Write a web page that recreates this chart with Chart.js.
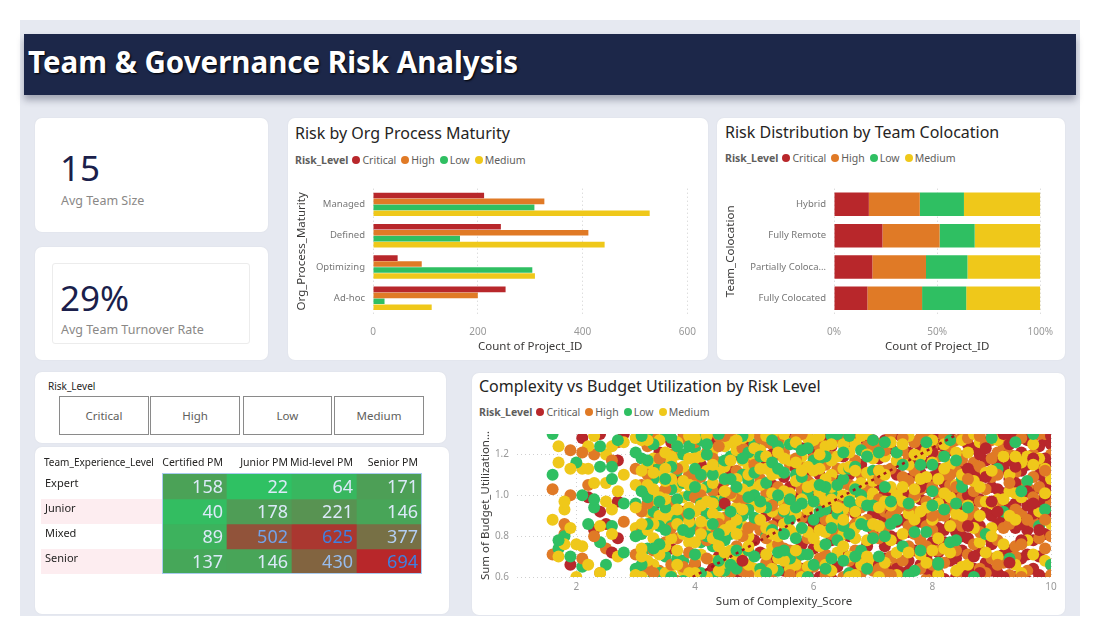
<!DOCTYPE html>
<html>
<head>
<meta charset="utf-8">
<title>Team &amp; Governance Risk Analysis</title>
<script src="https://cdn.jsdelivr.net/npm/chart.js@4.4.1/dist/chart.umd.min.js"></script>
<style>
  body { margin: 0; width: 1100px; height: 636px; background: #fff; position: relative; overflow: hidden;
         font-family: "Noto Sans", "Open Sans", sans-serif; color: #252423; }
  .abs { position: absolute; }
  #pageBg { left: 20px; top: 20px; width: 1060px; height: 596px; background: #e6e9f1; }
  #banner { left: 24px; top: 34px; width: 1052px; height: 61px; background: #1c2749; box-shadow: 0 5px 7px rgba(30, 35, 60, .35); }
  #banner h1 { position: absolute; left: 4px; top: 0; margin: 0; line-height: 56px; font-size: 29.5px; font-weight: 700;
               color: #fff; text-shadow: 1px 1px 2px #000; white-space: nowrap; }
  .card { background: #fff; border-radius: 7px; box-shadow: 0 0 2px rgba(0, 0, 0, .06); }
  .kpi-value { font-size: 35px; line-height: 40px; color: #1b1f4b; white-space: nowrap; }
  .kpi-label { font-size: 12.5px; line-height: 16px; color: #8a8886; white-space: nowrap; }
  .ctitle { font-size: 16px; line-height: 22px; color: #252423; white-space: nowrap; }
  .legend { font-size: 10.5px; line-height: 14px; color: #605e5c; display: flex; align-items: center; white-space: nowrap; }
  .legend b { font-weight: 700; margin-right: 4px; }
  .legend .it { display: flex; align-items: center; margin-right: 5px; }
  .legend i { display: inline-block; width: 8px; height: 8px; border-radius: 50%; margin-right: 2px; }
  .slicer-btn { top: 396px; height: 39px; box-sizing: border-box; border: 1px solid #8a8a8a; font-size: 11.5px;
                color: #605e5c; display: flex; align-items: center; justify-content: center; }
</style>
</head>
<body>
<div id="pageBg" class="abs"></div>
<div id="banner" class="abs"><h1>Team &amp; Governance Risk Analysis</h1></div>

<!-- KPI cards -->
<div class="abs card" style="left:35px;top:118px;width:233px;height:114px"></div>
<div class="abs kpi-value" style="left:60px;top:148px">15</div>
<div class="abs kpi-label" style="left:61px;top:193px">Avg Team Size</div>

<div class="abs card" style="left:35px;top:247px;width:233px;height:113px"></div>
<div class="abs" style="left:52px;top:263px;width:198px;height:81px;border:1px solid #ececec;border-radius:3px;box-sizing:border-box"></div>
<div class="abs kpi-value" style="left:60px;top:278px">29%</div>
<div class="abs kpi-label" style="left:61px;top:322px">Avg Team Turnover Rate</div>

<!-- bar chart card -->
<div class="abs card" style="left:288px;top:118px;width:420px;height:242px"></div>
<div class="abs ctitle" style="left:295px;top:122px">Risk by Org Process Maturity</div>
<div id="legendMaturity" class="abs legend" style="left:295px;top:153px"></div>
<canvas id="maturityChart" class="abs" width="420" height="185" style="left:288px;top:175px"></canvas>

<!-- stacked chart card -->
<div class="abs card" style="left:717px;top:118px;width:348px;height:242px"></div>
<div class="abs ctitle" style="left:725px;top:121px">Risk Distribution by Team Colocation</div>
<div id="legendColoc" class="abs legend" style="left:725px;top:151px"></div>
<canvas id="colocChart" class="abs" width="348" height="185" style="left:717px;top:175px"></canvas>

<!-- slicer -->
<div class="abs card" style="left:35px;top:372px;width:411px;height:71px"></div>
<div class="abs" style="left:48px;top:379px;font-size:10px;line-height:14px;color:#252423">Risk_Level</div>
<div id="slicer"></div>

<!-- matrix -->
<div class="abs card" style="left:35px;top:447px;width:414px;height:167px"></div>
<canvas id="matrixChart" class="abs" width="384" height="128" style="left:41px;top:448px"></canvas>

<!-- scatter -->
<div class="abs card" style="left:472px;top:373px;width:593px;height:242px"></div>
<div class="abs ctitle" style="left:479px;top:375px">Complexity vs Budget Utilization by Risk Level</div>
<div id="legendScatter" class="abs legend" style="left:479px;top:405px"></div>
<canvas id="scatterChart" class="abs" width="593" height="195" style="left:472px;top:420px"></canvas>

<script>
// ---- shared categories ----
const riskLevels = ["Critical", "High", "Low", "Medium"];
const riskColors = ["#b8272b", "#e07a26", "#2fbf62", "#efc81a"];

// ---- Risk by Org Process Maturity (count of projects) ----
const maturityLabels = ["Managed", "Defined", "Optimizing", "Ad-hoc"];
const maturityCritical = [212, 244, 47, 253];
const maturityHigh = [327, 411, 93, 200];
const maturityLow = [308, 166, 304, 22];
const maturityMedium = [528, 442, 309, 112];
const maturityTicks = [0, 200, 400, 600];

// ---- Risk Distribution by Team Colocation (% of projects) ----
const colocationLabels = ["Hybrid", "Fully Remote", "Partially Colocated", "Fully Colocated"];
const colocCritical = [16.9, 23.5, 18.6, 16.2];
const colocHigh = [24.7, 27.7, 26.0, 26.5];
const colocLow = [21.4, 17.0, 20.1, 21.4];
const colocMedium = [37.0, 31.8, 35.3, 35.9];
const percentTicks = [0, 50, 100];

// ---- matrix: Team_Experience_Level x PM type ----
const experienceLevels = ["Expert", "Junior", "Mixed", "Senior"];
const pmTypes = ["Certified PM", "Junior PM", "Mid-level PM", "Senior PM"];
const matrixExpert = [158, 22, 64, 171];
const matrixJunior = [40, 178, 221, 146];
const matrixMixed = [89, 502, 625, 377];
const matrixSenior = [137, 146, 430, 694];

// ---- scatter: pairs of (Complexity_Score x10, Budget_Utilization x100) ----
const criticalPts = [
  21,128, 24,130, 27,117, 22,99, 24,92, 25,86, 23,83, 19,66, 26,72, 28,130, 27,97, 27,79,
  31,62, 33,95, 34,121, 36,74, 37,108, 38,131, 39,88, 40,66, 41,115, 42,97, 43,127, 44,70, 45,84, 46,112, 47,59,
  48,101, 49,125, 50,78, 32,104, 35,58, 38,92, 41,78, 43,64, 46,90, 48,131, 33,113, 36,126, 44,103, 47,120, 49,62,
  51,96, 52,117, 53,68, 54,130, 55,82, 56,104, 57,61, 58,123, 59,89, 60,74, 61,110, 62,128, 63,93, 64,65, 65,119,
  66,80, 67,102, 68,58, 69,126, 70,91, 51,72, 52,127, 53,105, 54,88, 55,63, 56,131, 57,98, 58,76, 59,112, 60,100,
  61,60, 62,85, 63,124, 64,107, 65,71, 66,94, 67,129, 68,115, 69,67, 70,83, 52,90, 55,109, 58,64, 60,121, 63,78,
  65,97, 67,66, 69,104, 61,89, 66,125,
  56,99, 59,61, 62,118, 64,79, 67,91, 70,127, 57,113, 60,86, 63,59, 66,110, 69,75, 45,96, 48,68, 53,120, 58,100,
  71,118, 72,75, 73,99, 74,130, 75,62, 76,108, 77,86, 78,124, 79,70, 80,95, 81,113, 82,59, 83,131, 84,82, 85,103,
  71,91, 72,127, 73,64, 74,110, 75,88, 76,121, 77,73, 78,98, 79,116, 80,61, 81,84, 82,106, 83,122, 84,69, 85,93,
  71,66, 72,101, 73,123, 74,79, 75,115, 76,63, 77,126, 78,87, 79,104, 80,129, 81,72, 82,96, 83,111, 84,60, 85,119,
  72,88, 74,97, 76,82, 78,111, 80,77, 82,120, 84,101, 71,105, 73,80, 75,128, 77,110, 79,91, 81,125, 83,68, 85,80,
  74,64, 76,100, 78,66, 80,109, 82,83,
  72,69, 75,101, 77,118, 79,64, 81,97, 83,86, 85,112, 71,112, 73,91, 76,68, 78,104, 80,121, 82,77, 84,116, 74,87,
  81,131, 85,73,
  86,125, 87,64, 88,98, 89,117, 90,76, 91,130, 92,89, 93,108, 94,60, 95,121, 96,83, 97,102, 98,70, 99,127, 100,92,
  86,79, 87,111, 88,131, 89,67, 90,104, 91,86, 92,122, 93,73, 94,96, 95,112, 96,58, 97,129, 98,88, 99,106, 100,66,
  86,100, 87,88, 88,73, 89,126, 90,118, 91,62, 92,101, 93,129, 94,84, 95,69, 96,115, 97,78, 98,124, 99,81, 100,114,
  86,61, 87,123, 88,109, 89,92, 90,131, 91,103, 92,71, 93,94, 94,119, 95,99, 96,127, 97,64, 98,110, 99,59, 100,125,
  87,97, 89,80, 91,116, 93,117, 95,86, 97,91, 99,118, 88,85, 90,63, 92,113, 94,106, 96,95, 98,61, 100,103,
  86,113, 88,120, 90,90, 92,60, 94,128, 96,71, 98,97,
  87,70, 89,109, 91,92, 93,125, 95,78, 97,118, 99,100, 86,85, 88,62, 90,97, 92,130, 94,114, 96,102, 98,83, 100,129,
  89,123, 93,67, 97,96
];
const highPts = [
  16,103, 18,86, 19,122, 19,100, 18,81, 16,71, 22,105, 23,120, 25,74, 26,117, 27,126, 21,69, 28,87, 23,80, 21,121, 24,62,
  30,71, 31,105, 32,124, 33,88, 34,63, 35,116, 36,97, 37,79, 38,128, 39,110, 40,67, 41,93, 42,121, 43,84, 44,60,
  45,107, 46,130, 47,75, 48,98, 49,118, 50,86,
  30,113, 31,82, 32,64, 33,129, 34,101, 35,77, 36,120, 37,58, 38,91, 39,72, 40,126, 41,109, 42,69, 43,102, 44,124,
  45,89, 46,62, 47,112, 48,80, 49,95, 50,131,
  31,92, 33,73, 35,103, 37,125, 39,63, 41,83, 43,118, 45,71, 47,99, 49,61, 32,110, 36,66, 40,99, 44,86, 48,123,
  32,96, 34,118, 36,84, 38,65, 40,110, 42,78, 44,129, 46,101, 48,63, 50,115, 33,62, 37,113, 41,100, 45,129, 49,84,
  51,108, 52,67, 53,125, 54,91, 55,74, 56,115, 57,99, 58,62, 59,131, 60,84, 61,105, 62,71, 63,119, 64,95, 65,60,
  66,127, 67,86, 68,110, 69,76, 70,122,
  51,83, 52,101, 53,62, 54,120, 55,96, 56,73, 57,128, 58,89, 59,107, 60,65, 61,124, 62,98, 63,81, 64,113, 65,90,
  66,68, 67,117, 68,94, 69,103, 70,63,
  52,126, 54,76, 56,92, 58,114, 60,104, 62,61, 64,83, 66,105, 68,70, 70,97, 53,85, 57,69, 61,97, 65,130, 69,88,
  51,128, 55,121, 59,79, 63,106, 67,73, 54,104, 58,130, 62,115, 66,84, 70,109,
  52,79, 54,127, 56,61, 58,103, 60,118, 62,88, 64,128, 66,96, 68,62, 70,84, 53,95, 57,118, 61,69, 65,106, 69,124,
  71,79, 72,112, 73,130, 74,66, 75,95, 76,118, 77,81, 78,103, 79,59, 80,124, 81,90, 82,110, 83,76, 84,127, 85,99,
  71,125, 72,92, 73,70, 74,101, 75,122, 76,85, 77,112, 78,64, 79,97, 80,83, 81,119, 82,67, 83,105, 84,88, 85,61,
  72,62, 74,121, 76,75, 78,128, 80,104, 82,90, 84,73, 71,98, 73,113, 75,68, 77,92, 79,130, 81,101, 83,123, 85,117,
  72,84, 74,93, 76,107, 78,78, 80,66, 82,129, 84,112, 71,64, 73,90, 75,109, 77,126, 79,85, 81,73, 83,94, 85,85,
  71,108, 73,61, 75,128, 77,100, 79,75, 81,62, 83,110, 85,128, 72,122, 76,95, 80,90, 84,104,
  86,90, 87,116, 88,64, 89,103, 90,127, 91,78, 92,96, 93,120, 94,70, 95,105, 96,131, 97,87, 98,115, 99,74, 100,98,
  86,128, 87,76, 88,114, 89,82, 90,69, 91,121, 92,84, 93,61, 94,111, 95,91, 96,104, 97,120, 98,79, 99,96, 100,120,
  86,71, 88,97, 90,109, 92,125, 94,93, 96,63, 98,130, 100,80, 87,102, 89,62, 91,95, 93,86, 95,128, 97,109, 99,130,
  86,108, 88,82, 90,118, 92,67, 94,75, 96,88, 98,104, 100,61, 91,110, 95,76, 99,88,
  87,92, 89,125, 91,66, 93,106, 95,60, 97,99, 99,112, 88,129
];
const lowPts = [
  16,130, 16,110, 20,116, 21,100, 18,80, 17,74, 17,78, 21,65, 23,94, 24,77, 24,114, 24,124, 26,114, 25,66, 26,85,
  28,96, 26,108, 23,98, 19,70, 28,72, 27,127, 22,86,
  30,96, 31,118, 32,74, 33,108, 34,62, 35,129, 36,85, 37,112, 38,68, 39,100, 40,123, 41,77, 42,91, 43,60, 44,116,
  45,98, 46,81, 47,126, 48,66, 49,107, 50,89,
  30,64, 31,81, 32,131, 33,92, 34,115, 35,70, 36,103, 37,88, 38,120, 39,61, 40,84, 41,127, 42,104, 43,75, 44,95,
  45,63, 46,119, 47,86, 48,110, 49,73, 50,125,
  30,121, 31,66, 32,99, 33,60, 34,85, 35,94, 36,128, 37,69, 38,106, 39,82, 40,113, 41,62, 42,80, 43,97, 44,130,
  45,78, 46,108, 47,64, 48,90, 49,121, 50,70,
  31,102, 33,125, 35,83, 37,98, 39,124, 41,96, 43,110, 45,117, 47,104, 49,93, 32,86, 36,114, 40,71, 44,68, 48,129,
  42,120, 34,76, 38,58, 46,92, 50,111,
  30,80, 32,117, 34,97, 36,60, 38,83, 40,104, 42,125, 44,81, 46,66, 48,118, 50,100, 31,129, 33,74, 35,108, 37,124,
  39,91, 41,110, 43,86, 45,108, 47,73, 49,99,
  51,119, 52,80, 53,97, 54,63, 55,111, 56,88, 57,125, 58,71, 59,101, 60,117, 61,67, 62,93, 63,129, 64,78, 65,108,
  66,62, 67,95, 68,122, 69,85, 70,112,
  51,64, 52,106, 53,83, 54,124, 55,92, 56,69, 57,110, 58,96, 59,60, 60,88, 61,118, 62,76, 63,101, 64,130, 65,85,
  66,113, 67,70, 68,100, 69,64, 70,79,
  52,94, 54,72, 56,125, 58,109, 60,66, 62,119, 64,91, 66,97, 68,73, 70,127, 53,116, 57,79, 61,92, 65,68, 69,119,
  51,97, 55,73, 59,123, 63,69, 67,114, 54,100, 58,84, 62,104, 66,81, 70,95,
  52,62, 54,113, 56,98, 58,122, 60,97, 62,64, 64,105, 66,129, 68,86, 53,127, 55,81, 57,94, 59,71, 61,105, 63,84,
  65,121, 67,103, 69,95,
  71,70, 72,104, 73,86, 74,121, 75,75, 76,96, 77,63, 78,115, 79,82, 80,102, 81,66, 82,93, 83,127, 84,78, 85,108,
  72,126, 76,61, 80,115, 84,96, 74,88, 78,73, 82,119, 71,121, 73,97, 75,115, 77,82, 79,126, 72,80,
  85,104, 80,95, 91,113, 92,92, 83,77, 81,67, 96,107, 99,93, 100,66, 93,69, 84,117, 98,85, 87,60, 94,126, 89,81, 97,130,
  86,94, 90,128, 95,102
];
const mediumPts = [
  17,124, 17,116, 21,113, 22,113, 25,120, 18,93, 18,97, 20,76, 18,76, 21,75, 17,70, 24,85, 23,106, 25,106, 25,97,
  26,93, 27,102, 22,124, 28,126, 26,124, 27,70, 22,66, 24,62, 23,129, 19,113, 26,81, 19,84, 16,88, 28,110, 20,60,
  30,84, 31,127, 32,92, 33,66, 34,109, 35,88, 36,61, 37,120, 38,99, 39,77, 40,106, 41,130, 42,85, 43,68, 44,101,
  45,124, 46,73, 47,94, 48,117, 49,80, 50,104,
  30,105, 31,74, 32,115, 33,97, 34,127, 35,62, 36,91, 37,104, 38,81, 39,129, 40,92, 41,71, 42,112, 43,122, 44,79,
  45,95, 46,126, 47,69, 48,85, 49,113, 50,64,
  30,128, 31,93, 32,68, 33,118, 34,90, 35,107, 36,79, 37,126, 38,63, 39,94, 40,118, 41,87, 42,60, 43,106, 44,89,
  45,114, 46,100, 47,122, 48,72, 49,101, 50,119,
  30,61, 31,112, 32,83, 33,79, 34,71, 35,121, 36,108, 37,86, 38,114, 39,118, 40,77, 41,103, 42,129, 43,91, 44,111,
  45,67, 46,85, 47,108, 48,128, 49,66, 50,96,
  31,60, 33,103, 35,98, 37,73, 39,87, 41,119, 43,79, 45,83, 47,81, 49,129, 32,105, 36,119, 40,62, 44,75, 48,103,
  30,94, 31,70, 32,127, 33,86, 34,99, 35,75, 36,116, 37,93, 38,107, 39,62, 40,128, 41,81, 42,97, 43,115, 44,63,
  45,102, 46,117, 47,88, 48,93, 49,75, 50,123, 33,111, 37,66, 41,95, 45,72, 49,110, 31,86, 35,113, 39,105, 43,96, 47,127,
  51,88, 52,113, 53,75, 54,98, 55,127, 56,64, 57,91, 58,119, 59,71, 60,97, 61,129, 62,82, 63,110, 64,72, 65,100,
  66,121, 67,79, 68,106, 69,96, 70,68,
  51,122, 52,71, 53,92, 54,111, 55,86, 56,101, 57,66, 58,104, 59,128, 60,79, 61,99, 62,124, 63,63, 64,119, 65,81,
  66,99, 67,125, 68,87, 69,111, 70,118,
  51,105, 52,96, 53,130, 54,69, 55,102, 56,117, 57,81, 58,60, 59,93, 60,112, 61,75, 62,108, 63,88, 64,101, 65,125,
  66,70, 67,92, 68,129, 69,78, 70,86,
  51,61, 52,84, 53,110, 54,80, 55,118, 56,93, 57,116, 58,98, 59,65, 60,127, 61,83, 62,97, 63,117, 64,87, 65,113,
  66,60, 67,104, 68,66, 69,98, 70,101,
  53,101, 57,107, 61,113, 65,93, 69,130, 55,68, 59,114, 63,98, 67,61, 52,129,
  51,94, 52,119, 53,64, 54,121, 55,93, 56,83, 57,126, 58,112, 59,82, 60,105, 61,120, 62,66, 63,104, 64,94, 65,75,
  66,114, 67,84, 68,97, 69,120, 70,107, 53,81, 57,73, 61,101, 65,88, 69,70, 51,113, 55,130, 59,104, 63,125, 67,112,
  71,85, 72,119, 73,95, 74,61, 75,104, 76,129, 77,99, 78,71, 79,122, 80,88, 81,108, 82,74, 83,115, 84,105, 85,65,
  71,112, 72,67, 73,104, 74,117, 75,81, 76,91, 77,120, 78,92, 79,67, 80,116, 81,96, 82,125, 83,85, 84,121, 85,127,
  71,60, 73,126, 75,97, 77,103, 79,109, 81,61, 83,99, 85,90, 72,97, 74,72, 76,115, 78,119, 80,73, 82,101, 84,63,
  71,94, 72,110, 73,78, 74,100, 75,125, 76,72, 77,88, 78,108, 79,94, 80,127, 81,79, 82,113, 83,72, 84,91, 85,110,
  86,95, 87,130, 88,77, 89,111, 90,84, 91,98, 92,119, 93,102, 94,66, 95,116, 96,78, 97,125, 98,92, 99,68, 100,108,
  86,66, 87,107, 88,126, 89,72, 90,96, 91,127, 92,76, 93,110, 94,101, 95,62, 96,119, 97,71, 98,118, 99,113, 100,86,
  87,84, 89,97, 91,70, 93,90, 95,99, 97,115, 99,101, 88,104, 90,80, 94,88, 86,121, 88,90, 90,112, 92,98, 94,119
];
// dotted trend line
const trendX = [3.96, 8.43];
const trendY = [0.6, 1.3];
const complexityTicks = [2, 4, 6, 8, 10];
const budgetTicks = [0.6, 0.8, 1.0, 1.2];

Chart.defaults.font.family = '"Noto Sans", "Open Sans", sans-serif';
Chart.defaults.animation = false;

const tickGrey = "#999";
const catGrey = "#767676";
const titleGrey = "#3b3a39";

// legends + slicer built from the category arrays
["legendMaturity", "legendColoc", "legendScatter"].forEach(id => {
  document.getElementById(id).innerHTML = "<b>Risk_Level</b>" + riskLevels.map((r, i) =>
    `<span class="it"><i style="background:${riskColors[i]}"></i>${r}</span>`).join("");
});
const slicerLeft = [59, 150, 243, 334];
document.getElementById("slicer").innerHTML = riskLevels.map((r, i) =>
  `<div class="abs slicer-btn" style="left:${slicerLeft[i]}px;width:${i == 2 ? 89 : 90}px">${r}</div>`).join("");

const dottedGrid = { color: "#cfcfcf", drawTicks: false };
const noBorderDotted = { display: false, dash: [1, 3] };
const noGrid = { display: false, drawTicks: false };
const fixWidth = w => s => { s.width = w; };
const fixHeight = h => s => { s.height = h; };
const fixedTicks = list => s => { s.ticks = list.map(v => ({ value: v })); };
const axisTitle = (text, pad) => ({ display: true, text, color: titleGrey, font: { size: 11.5 }, padding: pad });

// ---- grouped horizontal bars ----
new Chart(document.getElementById("maturityChart"), {
  type: "bar",
  data: {
    labels: maturityLabels,
    datasets: [maturityCritical, maturityHigh, maturityLow, maturityMedium].map((d, i) => ({
      label: riskLevels[i], data: d, backgroundColor: riskColors[i],
      categoryPercentage: 0.76, barPercentage: 0.94
    }))
  },
  options: {
    indexAxis: "y",
    responsive: false,
    layout: { padding: { left: 6, top: 12, right: 15, bottom: 0 } },
    plugins: { legend: { display: false }, tooltip: { enabled: false } },
    scales: {
      x: {
        min: 0, max: 600,
        afterBuildTicks: fixedTicks(maturityTicks),
        afterFit: fixHeight(46),
        grid: dottedGrid, border: noBorderDotted,
        ticks: { color: tickGrey, font: { size: 10 }, padding: 12 },
        title: axisTitle("Count of Project_ID", { top: 0, bottom: 6 })
      },
      y: {
        afterFit: fixWidth(79),
        grid: noGrid, border: { display: false },
        ticks: { color: catGrey, font: { size: 9.5 }, padding: 8 },
        title: axisTitle("Org_Process_Maturity", { top: 1, bottom: 0 })
      }
    }
  }
});

// ---- 100% stacked bars ----
new Chart(document.getElementById("colocChart"), {
  type: "bar",
  data: {
    labels: colocationLabels,
    datasets: [colocCritical, colocHigh, colocLow, colocMedium].map((d, i) => ({
      label: riskLevels[i], data: d, backgroundColor: riskColors[i],
      categoryPercentage: 1, barPercentage: 0.75
    }))
  },
  options: {
    indexAxis: "y",
    responsive: false,
    layout: { padding: { left: 6, top: 11, right: 19, bottom: 0 } },
    plugins: { legend: { display: false }, tooltip: { enabled: false } },
    scales: {
      x: {
        stacked: true, min: 0, max: 100,
        afterBuildTicks: fixedTicks(percentTicks),
        afterFit: fixHeight(46),
        grid: dottedGrid, border: noBorderDotted,
        ticks: { color: tickGrey, font: { size: 10 }, padding: 12, callback: v => v + "%" },
        title: axisTitle("Count of Project_ID", { top: 0, bottom: 6 })
      },
      y: {
        stacked: true,
        afterFit: fixWidth(111),
        grid: noGrid, border: { display: false },
        ticks: {
          color: catGrey, font: { size: 9.5 }, padding: 8,
          callback: function (v) { const t = this.getLabelForValue(v); return t.length > 16 ? t.slice(0, 16) + "…" : t; }
        },
        title: axisTitle("Team_Colocation", { top: 1, bottom: 0 })
      }
    }
  }
});

// ---- matrix (heat cells as unit stacked bars) ----
const matrixRows = [matrixExpert, matrixJunior, matrixMixed, matrixSenior];
const allVals = matrixRows.flat();
const vMin = Math.min(...allVals), vMax = Math.max(...allVals);
const lerp = (a, b, t) => Math.round(a + (b - a) * t);
const mix = (c1, c2, t) => {
  const p = c => [1, 3, 5].map(k => parseInt(c.slice(k, k + 2), 16));
  const a = p(c1), b = p(c2);
  return `rgb(${lerp(a[0], b[0], t)},${lerp(a[1], b[1], t)},${lerp(a[2], b[2], t)})`;
};
const cellColor = v => mix("#2fc163", "#b8272a", (v - vMin) / (vMax - vMin));
const textColor = v => mix("#dbe9f8", "#3f80e0", Math.min(1, Math.max(0, (v - 300) / 300)));

const matrixText = {
  id: "matrixText",
  beforeDatasetsDraw(chart) {
    const { ctx, chartArea, scales: { y } } = chart;
    experienceLevels.forEach((name, i) => {
      if (i % 2 === 1) {
        const top = y.getPixelForValue(i), bottom = y.getPixelForValue(i + 1);
        ctx.fillStyle = "#fdedf0";
        ctx.fillRect(0, top, chartArea.left, bottom - top);
      }
    });
  },
  afterDatasetsDraw(chart) {
    const { ctx, chartArea, scales: { y } } = chart;
    const headY = chartArea.top / 2 + 2;
    ctx.save();
    ctx.textBaseline = "middle";
    // header row
    ctx.fillStyle = "#252423";
    ctx.textAlign = "left";
    ctx.font = '10px "Noto Sans"';
    ctx.fillText("Team_Experience_Level", 3, headY);
    const first = chart.getDatasetMeta(0).data;
    ctx.textAlign = "right";
    ctx.font = '10.5px "Noto Sans"';
    pmTypes.forEach((t, j) => {
      const el = first[j];
      ctx.fillText(t, el.x + el.width / 2 - 4, headY);
    });
    // row headers
    ctx.textAlign = "left";
    ctx.font = '11px "Noto Sans"';
    experienceLevels.forEach((name, i) => {
      const mid = (y.getPixelForValue(i) + y.getPixelForValue(i + 1)) / 2;
      ctx.fillText(name, 4, mid - 3);
    });
    // values
    ctx.textAlign = "right";
    ctx.font = '18px "Noto Sans"';
    chart.data.datasets.forEach((ds, i) => {
      chart.getDatasetMeta(i).data.forEach((el, j) => {
        const v = ds.values[j];
        ctx.fillStyle = textColor(v);
        ctx.fillText(String(v), el.x + el.width / 2 - 4, (el.y + el.base) / 2 + 1);
      });
    });
    // selection outline
    ctx.strokeStyle = "#a9cbef";
    ctx.lineWidth = 1;
    ctx.strokeRect(chartArea.left + 0.5, chartArea.top - 0.5, chartArea.right - chartArea.left - 1, chartArea.bottom - chartArea.top);
    ctx.restore();
  }
};

new Chart(document.getElementById("matrixChart"), {
  type: "bar",
  data: {
    labels: pmTypes,
    datasets: matrixRows.map((row, i) => ({
      label: experienceLevels[i],
      data: row.map(() => 1),
      values: row,
      backgroundColor: row.map(cellColor),
      borderWidth: 0, categoryPercentage: 1, barPercentage: 1
    }))
  },
  options: {
    responsive: false,
    layout: { padding: { left: 121, top: 26, right: 3, bottom: 2 } },
    plugins: { legend: { display: false }, tooltip: { enabled: false } },
    scales: {
      x: { display: false, stacked: true },
      y: { display: false, stacked: true, min: 0, max: 4, reverse: true }
    }
  },
  plugins: [matrixText]
});

// ---- scatter: interleave levels so no colour sits wholly on top ----
const levelPts = [lowPts, mediumPts, highPts, criticalPts];
const levelCol = [riskColors[2], riskColors[3], riskColors[1], riskColors[0]];
const merged = [];
levelPts.forEach((arr, k) => {
  const n = arr.length / 2;
  for (let i = 0; i < n; i++) {
    merged.push({ f: i / n, k, x: arr[2 * i] / 10, y: arr[2 * i + 1] / 100 });
  }
});
merged.sort((a, b) => a.f - b.f || a.k - b.k);

new Chart(document.getElementById("scatterChart"), {
  type: "scatter",
  data: {
    datasets: [
      {
        type: "line", label: "Trend",
        data: trendX.map((x, i) => ({ x, y: trendY[i] })),
        borderColor: "#a3151d", borderWidth: 2.5, borderDash: [3, 4], pointRadius: 0, clip: 0
      },
      {
        label: "Projects",
        data: merged.map(p => ({ x: p.x, y: p.y })),
        pointBackgroundColor: merged.map(p => levelCol[p.k]),
        pointBorderWidth: 0, pointRadius: 6, clip: 0
      }
    ]
  },
  options: {
    responsive: false,
    layout: { padding: { left: 6, top: 11, right: 14, bottom: 0 } },
    plugins: { legend: { display: false }, tooltip: { enabled: false } },
    scales: {
      x: {
        type: "linear", min: 1, max: 10,
        afterBuildTicks: fixedTicks(complexityTicks),
        afterFit: fixHeight(38),
        grid: dottedGrid, border: noBorderDotted,
        ticks: { color: tickGrey, font: { size: 10 }, padding: 4 },
        title: axisTitle("Sum of Complexity_Score", { top: 0, bottom: 6 })
      },
      y: {
        min: 0.6, max: 1.3,
        afterBuildTicks: fixedTicks(budgetTicks),
        afterFit: fixWidth(39),
        grid: dottedGrid, border: noBorderDotted,
        ticks: { color: tickGrey, font: { size: 10 }, padding: 8, callback: v => v.toFixed(1) },
        title: axisTitle("Sum of Budget_Utilization…", { top: 1, bottom: 0 })
      }
    }
  }
});
</script>
</body>
</html>
